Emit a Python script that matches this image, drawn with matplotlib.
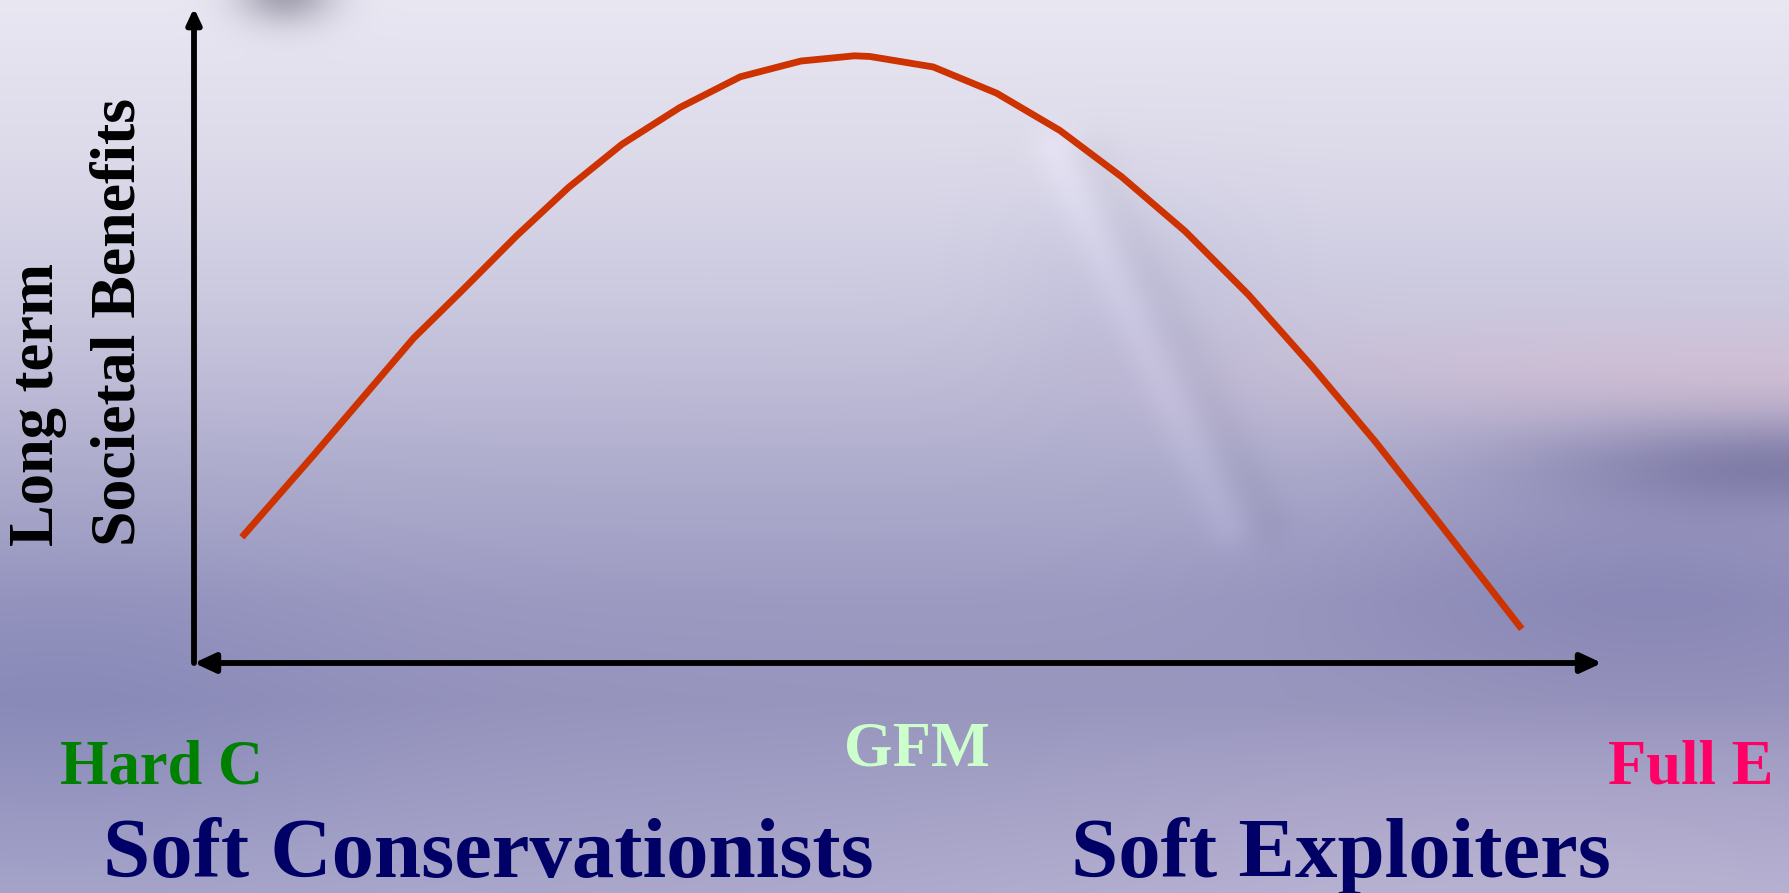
import numpy as np
import matplotlib
matplotlib.use("Agg")
import matplotlib.pyplot as plt

# Position along the conservation/exploitation spectrum (0 = Hard C, 100 = Full E)
spectrum_pos = [3.4, 8.4, 12.1, 15.6, 19.1, 22.9, 26.6, 30.4, 34.5, 38.8,
                43.1, 46.9, 48.0, 52.5, 57.0, 61.5, 65.9, 70.4, 74.9, 79.4,
                83.9, 88.4, 94.3]
# Long term societal benefits (arbitrary units, 0-100)
benefits = [19.2, 31.5, 40.8, 49.6, 57.0, 65.2, 72.6, 79.2, 84.8, 89.5,
            91.9, 92.7, 92.6, 91.0, 87.0, 81.3, 74.2, 65.9, 56.2, 45.3,
            33.8, 21.5, 5.2]

y_label_lines = ["Long term", "Societal Benefits"]
spectrum_labels = ["Hard C", "GFM", "Full E"]
group_labels = ["Soft Conservationists", "Soft Exploiters"]

W, H = 1790, 893
fig = plt.figure(figsize=(W / 100, H / 100), dpi=100)

# ---- sky-like backdrop -------------------------------------------------
bg = fig.add_axes([0, 0, 1, 1])
bg.set_xlim(0, W)
bg.set_ylim(H, 0)
bg.axis("off")

yy, xx = np.mgrid[0:H, 0:W].astype(float)
stops_y = [0, 150, 300, 450, 600, 700, 893]
stops_c = np.array([[233, 231, 242], [221, 219, 234], [203, 201, 223],
                    [178, 176, 207], [156, 154, 193], [150, 148, 189],
                    [168, 166, 202]], dtype=float)
img = np.stack([np.interp(yy, stops_y, stops_c[:, k]) for k in range(3)], -1)


def blob(cx, cy, sx, sy, delta):
    g = np.exp(-0.5 * ((xx - cx) / sx) ** 2 - 0.5 * ((yy - cy) / sy) ** 2)
    img[...] += g[..., None] * np.asarray(delta, float)


blob(285, -8, 34, 22, (-70, -70, -65))          # dark smudge at the top
blob(1760, 375, 330, 38, (16, 2, -2))           # pink haze on the right
blob(1790, 462, 170, 32, (-40, -40, -32))       # dark cloud bank
blob(1650, 570, 230, 90, (-20, -20, -12))       # purple below the bank
blob(60, 700, 220, 120, (-12, -10, -4))         # bluish lower left
blob(1550, 893, 450, 130, (16, 12, 8))          # lighter lower right
blob(1130, 300, 90, 80, (-8, -8, -4))


def streak(a, b, sigma, amp):
    p0 = np.asarray(a, float)
    d = np.asarray(b, float) - p0
    t = np.clip(((xx - p0[0]) * d[0] + (yy - p0[1]) * d[1]) / (d @ d), 0, 1)
    dist = np.hypot(xx - (p0[0] + t * d[0]), yy - (p0[1] + t * d[1]))
    img[...] += (np.exp(-0.5 * (dist / sigma) ** 2) * amp)[..., None]


# faint diagonal light streak with a shadow beside it
streak((1055, 150), (1228, 526), 16, 9)
streak((1095, 160), (1268, 520), 18, -7)

img = np.clip(img, 0, 255).astype(np.uint8)
bg.imshow(img, extent=(0, W, H, 0), aspect="auto", interpolation="bilinear", zorder=0)

# ---- chart area -----------------------------------------------------------
x0, x1, y0, y1 = 194, 1602, 663, 8
ax = fig.add_axes([x0 / W, (H - y0) / H, (x1 - x0) / W, (y0 - y1) / H])
ax.set_xlim(0, 100)
ax.set_ylim(0, 100)
ax.axis("off")
ax.patch.set_alpha(0)

ax.plot(spectrum_pos, benefits, color="#CC3300", lw=4.9,
        solid_capstyle="butt", solid_joinstyle="round", zorder=3)

# axes drawn as arrows
ax.annotate("", xy=(0, 100), xytext=(0, 0), annotation_clip=False,
            arrowprops=dict(arrowstyle="-|>,head_length=0.9,head_width=0.42",
                            mutation_scale=10, lw=4.2, color="black",
                            shrinkA=0, shrinkB=0, joinstyle="round"))
ax.annotate("", xy=(100, 0), xytext=(0, 0), annotation_clip=False,
            arrowprops=dict(arrowstyle="<|-|>,head_length=1.25,head_width=0.58",
                            mutation_scale=10, lw=4.2, color="black",
                            shrinkA=0, shrinkB=0, joinstyle="round"))

# ---- text ------------------------------------------------------------------
serif = dict(family="Liberation Serif", weight="bold")

bg.text(53, 546, y_label_lines[0], rotation=90, rotation_mode="anchor",
        ha="left", va="baseline", fontsize=45, color="black", **serif)
bg.text(135, 546, y_label_lines[1], rotation=90, rotation_mode="anchor",
        ha="left", va="baseline", fontsize=46, color="black", **serif)

bg.text(60, 783, spectrum_labels[0], ha="left", va="baseline",
        fontsize=45, color="#008000", **serif)
bg.text(844, 765, spectrum_labels[1], ha="left", va="baseline",
        fontsize=45, color="#CCFFCC", **serif)
bg.text(1608, 783, spectrum_labels[2], ha="left", va="baseline",
        fontsize=45, color="#FF0066", **serif)

bg.text(103, 877, group_labels[0], ha="left", va="baseline",
        fontsize=61, color="#000066", **serif)
bg.text(1071, 877, group_labels[1], ha="left", va="baseline",
        fontsize=61, color="#000066", **serif)

fig.savefig("out.png", dpi=100)
